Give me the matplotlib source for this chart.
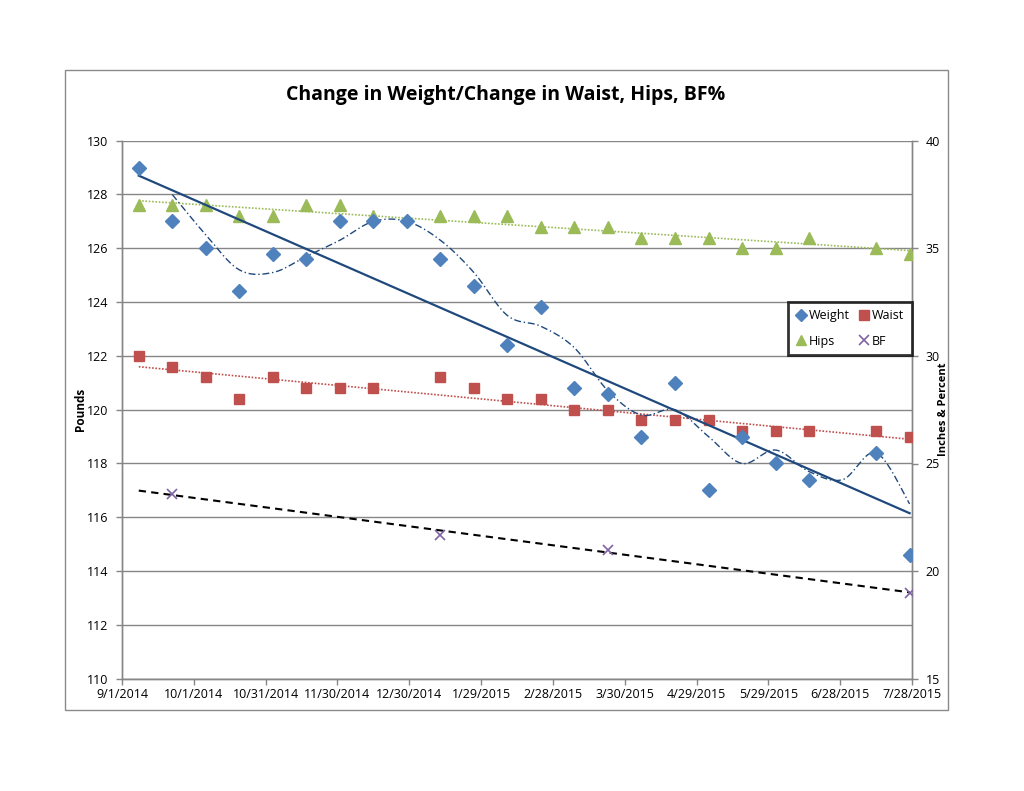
import numpy as np
import matplotlib
matplotlib.use("Agg")
import matplotlib.pyplot as plt
import matplotlib.dates as mdates
from matplotlib.lines import Line2D
from matplotlib.patches import Rectangle
from datetime import datetime

# ---------------- data ----------------
dates = ["2014-09-08", "2014-09-22", "2014-10-06", "2014-10-20", "2014-11-03",
         "2014-11-17", "2014-12-01", "2014-12-15", "2014-12-29", "2015-01-12",
         "2015-01-26", "2015-02-09", "2015-02-23", "2015-03-09", "2015-03-23",
         "2015-04-06", "2015-04-20", "2015-05-04", "2015-05-18", "2015-06-01",
         "2015-06-15", "2015-06-29", "2015-07-13", "2015-07-27"]
nan = np.nan
weight = [129, 127, 126, 124.4, 125.8, 125.6, 127, 127, 127, 125.6, 124.6, 122.4,
          123.8, 120.8, 120.6, 119, 121, 117, 119, 118, 117.4, nan, 118.4, 114.6]
waist = [30, 29.5, 29, 28, 29, 28.5, 28.5, 28.5, nan, 29, 28.5, 28, 28, 27.5, 27.5,
         27, 27, 27, 26.5, 26.5, 26.5, nan, 26.5, 26.25]
hips = [37, 37, 37, 36.5, 36.5, 37, 37, 36.5, nan, 36.5, 36.5, 36.5, 36, 36, 36,
        35.5, 35.5, 35.5, 35, 35, 35.5, nan, 35, 34.75]
bf = [nan, 23.6, nan, nan, nan, nan, nan, nan, nan, 21.7, nan, nan, nan, nan, 21.0,
      nan, nan, nan, nan, nan, nan, nan, nan, 19.0]

xtick_dates = ["2014-09-01", "2014-10-01", "2014-10-31", "2014-11-30", "2014-12-30",
               "2015-01-29", "2015-02-28", "2015-03-30", "2015-04-29", "2015-05-29",
               "2015-06-28", "2015-07-28"]
xtick_labels = ["9/1/2014", "10/1/2014", "10/31/2014", "11/30/2014", "12/30/2014",
                "1/29/2015", "2/28/2015", "3/30/2015", "4/29/2015", "5/29/2015",
                "6/28/2015", "7/28/2015"]
left_ticks = list(range(110, 131, 2))
right_ticks = list(range(15, 41, 5))

title = "Change in Weight/Change in Waist, Hips, BF%"

# ---------------- helpers ----------------
plt.rcParams['font.family'] = ['Open Sans', 'DejaVu Sans']

x = mdates.date2num([datetime.strptime(d, "%Y-%m-%d") for d in dates])
xt = mdates.date2num([datetime.strptime(d, "%Y-%m-%d") for d in xtick_dates])
W = np.array(weight, float)
Wa = np.array(waist, float)
H = np.array(hips, float)
B = np.array(bf, float)


def trend(xv, yv):
    m = ~np.isnan(yv)
    k, b = np.polyfit(xv[m], yv[m], 1)
    xx = np.array([xv[0], xv[-1]])
    return xx, k * xx + b


def catmull(px, py, n=24):
    px = np.asarray(px); py = np.asarray(py)
    P = np.column_stack([px, py])
    P = np.vstack([P[0], P, P[-1]])
    out = []
    for i in range(1, len(P) - 2):
        p0, p1, p2, p3 = P[i - 1], P[i], P[i + 1], P[i + 2]
        c1 = p1 + (p2 - p0) / 6.0
        c2 = p2 - (p3 - p1) / 6.0
        t = np.linspace(0, 1, n)[:, None]
        seg = ((1 - t) ** 3) * p1 + 3 * ((1 - t) ** 2) * t * c1 + 3 * (1 - t) * t ** 2 * c2 + t ** 3 * p2
        out.append(seg if i == 1 else seg[1:])
    s = np.vstack(out)
    return s[:, 0], s[:, 1]


# 2-period moving average of weight (blank entries skipped)
ma = np.array([np.nanmean(W[i - 1:i + 1]) for i in range(1, len(W))])
mx = x[1:]

# ---------------- figure ----------------
fig = plt.figure(figsize=(10.24, 7.91), dpi=100)
fig.patch.set_facecolor('white')
fig.patches.append(Rectangle((65 / 1024, 1 - 710 / 791), (948 - 65) / 1024, 640 / 791,
                             transform=fig.transFigure, fill=False,
                             edgecolor='#8a8a8a', lw=1.0, zorder=0))

ax = fig.add_axes([122 / 1024, 1 - 678.7 / 791, (912 - 122) / 1024, (678.7 - 140.7) / 791])
ax2 = ax.twinx()

gray = '#868686'
ax.set_ylim(110, 130)
ax2.set_ylim(15, 40)
ax.set_xlim(xt[0], xt[-1])
ax.set_yticks(left_ticks)
ax2.set_yticks(right_ticks)
ax.set_xticks(xt)
ax.set_xticklabels(xtick_labels)
ax.grid(axis='y', color=gray, lw=1.0)
ax.set_axisbelow(True)

for a in (ax, ax2):
    for s in a.spines.values():
        s.set_color(gray)
        s.set_linewidth(1.0)
    a.spines['top'].set_visible(False)
    a.tick_params(colors=gray, labelcolor='black', labelsize=9, length=4, width=1)
ax.tick_params(axis='y', pad=6)
ax2.tick_params(axis='y', pad=6)
ax.tick_params(axis='x', pad=3)

ax.set_ylabel("Pounds", fontsize=8.5, fontweight='bold')
ax2.set_ylabel("Inches & Percent", fontsize=8, fontweight='bold')
ax.yaxis.set_label_coords((87 - 122) / 790, 0.5)
ax2.yaxis.set_label_coords((938 - 122) / 790, 0.5)

c_w, c_wa, c_h, c_b = '#4F81BD', '#C0504D', '#9BBB59', '#8064A2'

# secondary-axis series
tx, ty = trend(x, H)
ax2.plot(tx, ty, color=c_h, lw=1.2, ls=(0, (1, 1)), zorder=2)
tx, ty = trend(x, Wa)
ax2.plot(tx, ty, color=c_wa, lw=1.2, ls=(0, (1, 1)), zorder=2)
tx, ty = trend(x, B)
ax2.plot(tx, ty, color='black', lw=1.5, ls=(0, (3.5, 2.5)), zorder=2)
ax2.plot(x, H, ls='none', marker='^', ms=8, color=c_h, zorder=3)
ax2.plot(x, Wa, ls='none', marker='s', ms=7, color=c_wa, zorder=3)
ax2.plot(x, B, ls='none', marker='x', ms=7, mew=1.2, color=c_b, zorder=3)

# primary-axis series drawn on top (overlay axis sharing pounds scale)
sx, sy = catmull(mx, ma)
wt_ax = fig.add_axes(ax.get_position(), sharex=ax)
wt_ax.set_ylim(110, 130)
wt_ax.axis('off')
wt_ax.patch.set_visible(False)
wt_ax.plot(sx, sy, color='#1F497D', lw=1.0, ls=(0, (5, 2, 1, 2)), zorder=2)
tx, ty = trend(x, W)
wt_ax.plot(tx, ty, color='#1F497D', lw=1.6, zorder=2)
wt_ax.plot(x, W, ls='none', marker='D', ms=7, color=c_w, zorder=3)
wt_ax.set_xlim(xt[0], xt[-1])

# legend
handles = [Line2D([], [], ls='none', marker='D', ms=6, color=c_w),
           Line2D([], [], ls='none', marker='^', ms=7, color=c_h),
           Line2D([], [], ls='none', marker='s', ms=7, color=c_wa),
           Line2D([], [], ls='none', marker='x', ms=7, mew=1.2, color=c_b)]
labels = ["Weight", "Hips", "Waist", "BF"]
leg = wt_ax.legend(handles, labels, ncol=2, loc='upper right',
                   bbox_to_anchor=(0.9995, 0.701), fontsize=9, frameon=True,
                   fancybox=False, edgecolor='black', handlelength=0.8,
                   handletextpad=0.2, columnspacing=0.8, labelspacing=1.0,
                   borderpad=0.6, borderaxespad=0)
leg.get_frame().set_linewidth(2.0)

fig.text(506 / 1024, 1 - 95 / 791, title, ha='center', va='center',
         fontsize=14, fontweight='bold')

fig.savefig("out.png", dpi=100)
